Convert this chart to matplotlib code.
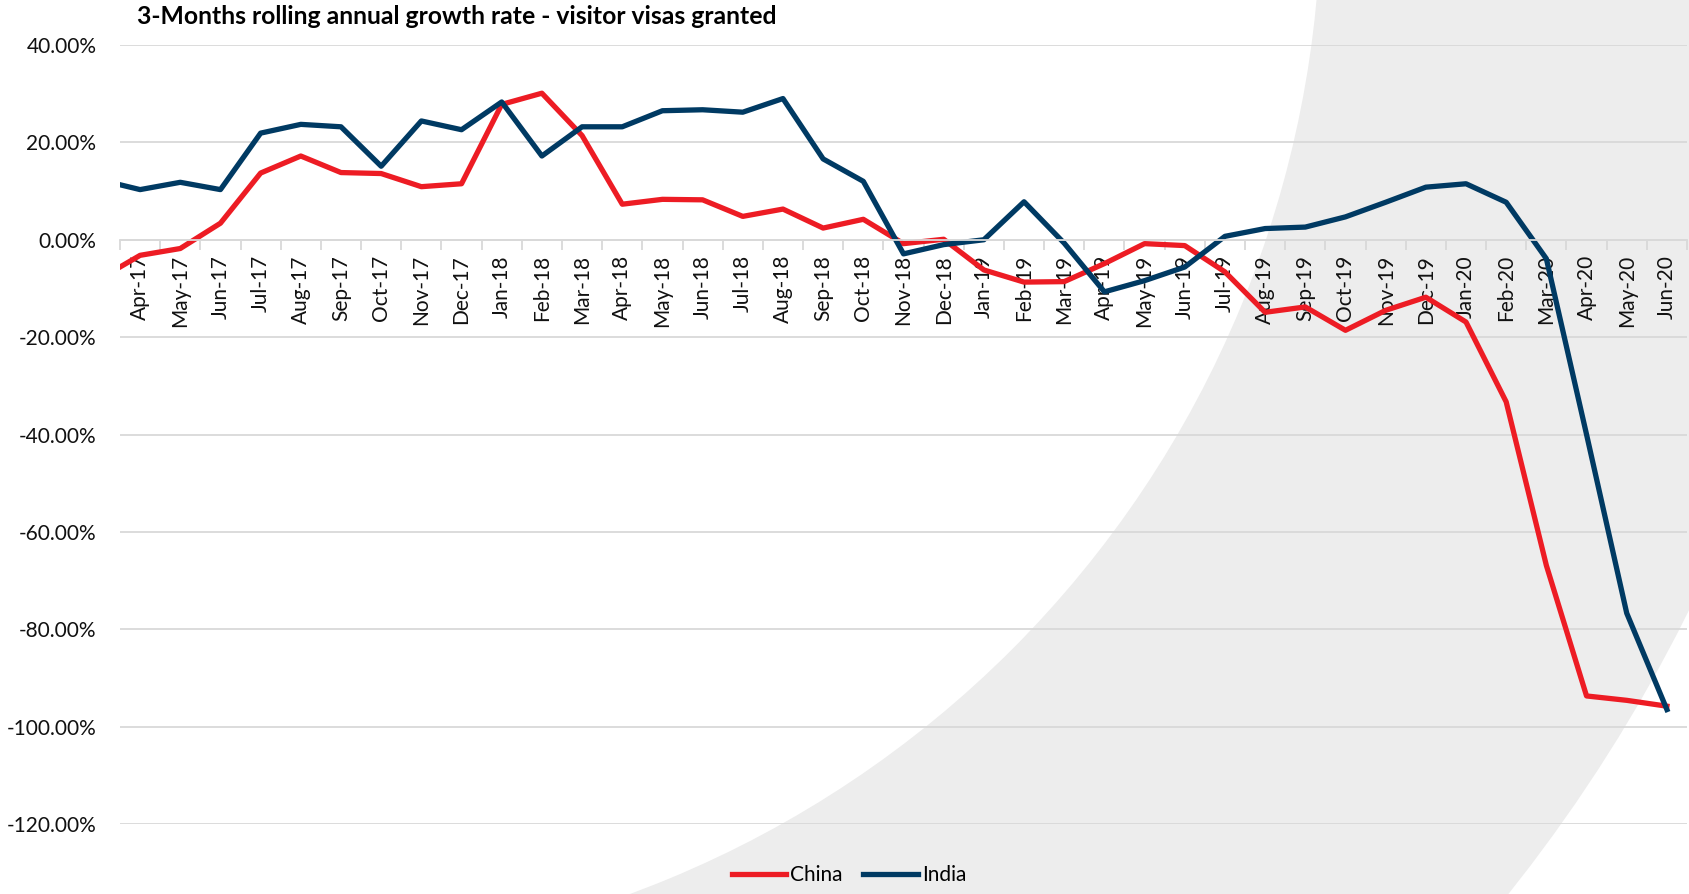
import matplotlib
matplotlib.use("Agg")
import matplotlib.pyplot as plt
from matplotlib.patches import Wedge
from matplotlib.ticker import FuncFormatter
import numpy as np

plt.rcParams['font.family'] = ['Lato', 'DejaVu Sans']

# Mar-17 sits just outside the left edge, only its segment shows
months = ['Mar-17', 'Apr-17', 'May-17', 'Jun-17', 'Jul-17', 'Aug-17', 'Sep-17', 'Oct-17',
          'Nov-17', 'Dec-17', 'Jan-18', 'Feb-18', 'Mar-18', 'Apr-18', 'May-18', 'Jun-18',
          'Jul-18', 'Aug-18', 'Sep-18', 'Oct-18', 'Nov-18', 'Dec-18', 'Jan-19', 'Feb-19',
          'Mar-19', 'Apr-19', 'May-19', 'Jun-19', 'Jul-19', 'Aug-19', 'Sep-19', 'Oct-19',
          'Nov-19', 'Dec-19', 'Jan-20', 'Feb-20', 'Mar-20', 'Apr-20', 'May-20', 'Jun-20']

china = [-8.0, -3.2, -1.8, 3.4, 13.7, 17.2, 13.8, 13.6, 10.9, 11.5,
         27.8, 30.1, 21.4, 7.3, 8.3, 8.2, 4.8, 6.3, 2.4, 4.2, -0.8, 0.1,
         -6.2, -8.7, -8.6, -4.9, -0.8, -1.2, -6.6, -14.9, -13.8, -18.6, -14.5, -11.8,
         -16.9, -33.3, -66.9, -93.7, -94.6, -95.8]

india = [12.3, 10.3, 11.8, 10.3, 21.9, 23.7, 23.2, 15.1, 24.4, 22.6,
         28.3, 17.2, 23.2, 23.2, 26.5, 26.7, 26.2, 29.0, 16.6, 12.0, -2.9, -1.0,
         0.0, 7.8, -0.7, -10.7, -8.4, -5.6, 0.7, 2.3, 2.6, 4.7, 7.7, 10.8,
         11.5, 7.7, -3.9, -40.0, -76.7, -96.5]

title = '3-Months rolling annual growth rate - visitor visas granted'

W, H = 1689, 894
fig = plt.figure(figsize=(W / 100, H / 100), dpi=100)

# grey curved band in the background
bg = fig.add_axes([0, 0, 1, 1], zorder=0)
bg.set_xlim(0, W)
bg.set_ylim(H, 0)
bg.axis('off')
bg.add_patch(Wedge((265, -97), 1590, 0, 360, width=534, color='#EDEDED', lw=0))

ax = fig.add_axes([120 / W, 1 - 824 / H, 1567 / W, (824 - 45) / H], zorder=1)
ax.set_facecolor('none')

x = np.arange(len(months))
ax.plot(x, china, color='#ED1C24', lw=3.8, label='China')
ax.plot(x, india, color='#003A63', lw=3.8, label='India')

ax.set_yticks(np.arange(-120, 41, 20))
ax.yaxis.set_major_formatter(FuncFormatter(lambda v, p: '{:.2f}%'.format(v)))
ax.yaxis.grid(True, color='#D9D9D9', lw=1.3)
ax.set_axisbelow(True)

for s in ['top', 'right', 'left']:
    ax.spines[s].set_visible(False)
ax.spines['bottom'].set_position(('data', 0))
ax.spines['bottom'].set_color('#D9D9D9')
ax.spines['bottom'].set_linewidth(1.3)

ax.set_xticks(np.arange(0.5, len(months), 1))
ax.set_xticklabels([])
ax.set_xticks(x[1:], minor=True)
ax.set_xticklabels(months[1:], minor=True, rotation=90)
ax.tick_params(axis='x', which='major', length=7, width=1.3, color='#D9D9D9')
ax.tick_params(axis='x', which='minor', length=0, pad=11, labelsize=15, labelcolor='#111111')
ax.tick_params(axis='y', length=0, pad=17, labelsize=15, labelcolor='#111111')

ax.set_xlim(0.5, len(months) - 0.5)
ax.set_ylim(-120, 40)

fig.text(137 / W, 1 - 16 / H, title, fontsize=17.8, fontweight='bold', ha='left', va='center')

fig.legend(loc='center', bbox_to_anchor=(849 / W, 19 / H), ncol=2, frameon=False,
           fontsize=15, handlelength=2.6, handletextpad=0.2, columnspacing=1.0)

fig.savefig('out.png', dpi=100)
